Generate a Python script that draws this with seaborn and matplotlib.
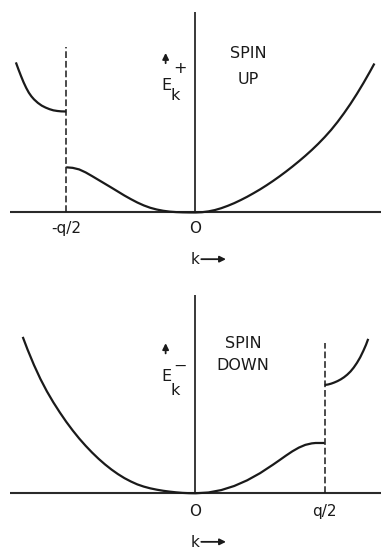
import matplotlib
matplotlib.use("Agg")
import matplotlib.pyplot as plt
import seaborn as sns
import pandas as pd

sns.set_theme(style="white")
plt.rcParams["font.family"] = ["DejaVu Sans"]

INK = "#1a1a1a"

# ---- spin-up band E_k^+ (k in units of q/2) ----
up_upper_k = [-1.39, -1.37, -1.35, -1.33, -1.31, -1.29, -1.27, -1.25, -1.22, -1.19,
              -1.16, -1.13, -1.10, -1.07, -1.04, -1.00]
up_upper_E = [1.91, 1.82, 1.735, 1.655, 1.585, 1.525, 1.478, 1.44, 1.395, 1.36,
              1.335, 1.315, 1.30, 1.292, 1.287, 1.285]

up_lower_k = [-1.00, -0.95, -0.90, -0.85, -0.80, -0.75, -0.70, -0.65, -0.60, -0.55,
              -0.50, -0.45, -0.40, -0.35, -0.30, -0.25, -0.20, -0.15, -0.10, -0.05,
              0.00, 0.05, 0.10, 0.15, 0.20, 0.25, 0.30, 0.35, 0.40, 0.45,
              0.50, 0.55, 0.60, 0.65, 0.70, 0.75, 0.80, 0.85, 0.90, 0.95,
              1.00, 1.05, 1.10, 1.15, 1.20, 1.25, 1.30, 1.35, 1.385]
up_lower_E = [0.575, 0.568, 0.548, 0.510, 0.463, 0.414, 0.365, 0.316, 0.266, 0.216,
              0.170, 0.127, 0.090, 0.060, 0.038, 0.022, 0.011, 0.005, 0.002, 0.0005,
              0.0, 0.0035, 0.014, 0.031, 0.055, 0.085, 0.119, 0.158, 0.200, 0.246,
              0.294, 0.346, 0.401, 0.459, 0.520, 0.584, 0.651, 0.721, 0.795, 0.874,
              0.959, 1.051, 1.153, 1.264, 1.383, 1.511, 1.647, 1.791, 1.896]

# ---- spin-down band E_k^- ----
dn_lower_k = [-1.337, -1.30, -1.25, -1.20, -1.15, -1.10, -1.05, -1.00, -0.95, -0.90,
              -0.85, -0.80, -0.75, -0.70, -0.65, -0.60, -0.55, -0.50, -0.45, -0.40,
              -0.35, -0.30, -0.25, -0.20, -0.15, -0.10, -0.05, 0.00,
              0.10, 0.20, 0.30, 0.40, 0.50, 0.60, 0.65, 0.70, 0.75, 0.80,
              0.85, 0.90, 0.93, 1.00]
dn_lower_E = [1.99, 1.83, 1.632, 1.454, 1.297, 1.157, 1.029, 0.909, 0.799, 0.697,
              0.604, 0.518, 0.439, 0.367, 0.302, 0.244, 0.193, 0.150, 0.113, 0.085,
              0.063, 0.046, 0.032, 0.021, 0.012, 0.005, 0.0013, 0.0,
              0.010, 0.041, 0.093, 0.165, 0.256, 0.364, 0.421, 0.479, 0.534, 0.581,
              0.616, 0.635, 0.640, 0.640]

dn_upper_k = [1.000, 1.025, 1.050, 1.075, 1.100, 1.125, 1.150, 1.175, 1.200, 1.225,
              1.250, 1.275, 1.300, 1.320, 1.337]
dn_upper_E = [1.378, 1.384, 1.395, 1.410, 1.428, 1.450, 1.477, 1.510, 1.550, 1.600,
              1.660, 1.730, 1.815, 1.890, 1.965]

up_ticks = [-1.0, 0.0]
up_ticklabels = ["-q/2", "O"]
dn_ticks = [0.0, 1.0]
dn_ticklabels = ["O", "q/2"]

fig = plt.figure(figsize=(3.81, 5.49), dpi=100)
ax_up = fig.add_axes([0, 1 - 280 / 549, 1, 280 / 549])
ax_dn = fig.add_axes([0, 0, 1, 269 / 549])

ax_up.set_xlim(-1.513, 1.436)
ax_up.set_ylim(-0.859, 2.704)
ax_dn.set_xlim(-1.513, 1.436)
ax_dn.set_ylim(-0.709, 2.714)


def band(ax, ks, es):
    df = pd.DataFrame({"k": ks, "E": es})
    sns.lineplot(data=df, x="k", y="E", ax=ax, sort=False, estimator=None,
                 color=INK, lw=1.6, solid_capstyle="butt", solid_joinstyle="round")


def frame(ax, vtop, boundary, btop):
    ax.plot([-1.436, 1.436], [0, 0], color="#2a2a2a", lw=1.5, solid_capstyle="butt")
    ax.plot([0, 0], [0, vtop], color="#2a2a2a", lw=1.3, solid_capstyle="butt")
    ax.plot([boundary, boundary], [0, btop], color=INK, lw=1.1,
            linestyle=(0, (4.4, 1.9)))


def energy_label(ax, sign, yE, ysup, ysub, yarrow):
    ax.annotate("", xy=(-0.231, yarrow + 0.13), xytext=(-0.231, yarrow),
                arrowprops=dict(arrowstyle="-|>", color=INK, lw=1.3,
                                mutation_scale=9, shrinkA=0, shrinkB=0))
    ax.text(-0.223, yE, "E", ha="center", va="center", fontsize=11.5, color=INK)
    ax.text(-0.12, ysup, sign, ha="center", va="center", fontsize=11.5, color=INK)
    ax.text(-0.159, ysub, "k", ha="center", va="center", fontsize=11.5, color=INK)


def k_label(ax, y):
    ax.text(0.0, y, "k", ha="center", va="center", fontsize=11, color=INK)
    ax.annotate("", xy=(0.236, y + 0.01), xytext=(0.045, y + 0.01),
                arrowprops=dict(arrowstyle="-|>", color=INK, lw=1.3,
                                mutation_scale=9, shrinkA=0, shrinkB=0))


# spin up panel
frame(ax_up, 2.551, -1.0, 2.11)
band(ax_up, up_upper_k, up_upper_E)
band(ax_up, up_lower_k, up_lower_E)
for t, lab in zip(up_ticks, up_ticklabels):
    ax_up.text(t, -0.2, lab, ha="center", va="center", fontsize=11, color=INK)
k_label(ax_up, -0.604)
ax_up.text(0.406, 2.017, "SPIN", ha="center", va="center", fontsize=11.5, color=INK)
ax_up.text(0.406, 1.686, "UP", ha="center", va="center", fontsize=11.5, color=INK)
energy_label(ax_up, "+", 1.622, 1.838, 1.495, 1.90)

# spin down panel
frame(ax_dn, 2.523, 1.0, 1.912)
band(ax_dn, dn_lower_k, dn_lower_E)
band(ax_dn, dn_upper_k, dn_upper_E)
for t, lab in zip(dn_ticks, dn_ticklabels):
    ax_dn.text(t, -0.23, lab, ha="center", va="center", fontsize=11, color=INK)
k_label(ax_dn, -0.628)
ax_dn.text(0.368, 1.912, "SPIN", ha="center", va="center", fontsize=11.5, color=INK)
ax_dn.text(0.368, 1.632, "DOWN", ha="center", va="center", fontsize=11.5, color=INK)
energy_label(ax_dn, "\u2212", 1.483, 1.62, 1.314, 1.78)

for ax in (ax_up, ax_dn):
    ax.set_axis_off()
    if ax.get_legend() is not None:
        ax.get_legend().remove()

fig.savefig("out.png", dpi=100, facecolor="white")
